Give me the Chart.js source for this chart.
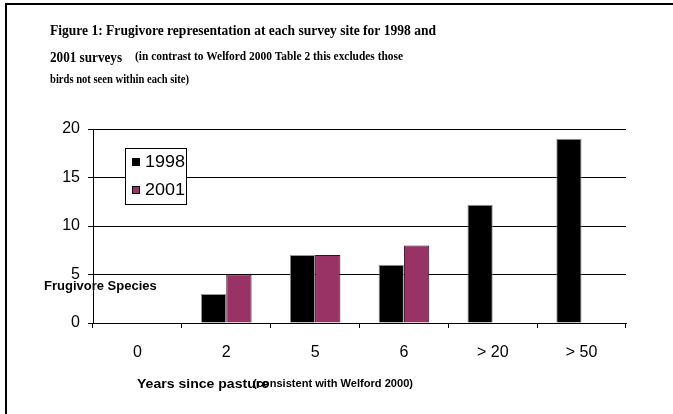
<!DOCTYPE html>
<html>
<head>
<meta charset="utf-8">
<script src="https://cdn.jsdelivr.net/npm/chart.js@4"></script>
<style>
    html, body { margin: 0; padding: 0; background: #fff; }
    #wrap { width: 673px; height: 414px; position: relative; }
</style>
</head>
<body>
<div id="wrap"><canvas id="chart" width="673" height="414"></canvas></div>
<script>
// data
const categories = ['0', '2', '5', '6', '> 20', '> 50'];
const values1998 = [0, 3, 7, 6, 12.2, 19];
const values2001 = [0, 5, 7, 8, null, null];
const yTicks = [0, 5, 10, 15, 20];

const seriesNames = ['1998', '2001'];
const seriesColors = ['#000000', '#993366'];

// frame, titles and legend drawn straight on the canvas
const decorPlugin = {
    id: 'decor',
    afterDraw(chart) {
        const ctx = chart.ctx;
        ctx.save();

        // outer frame (left + top only visible)
        ctx.strokeStyle = '#000';
        ctx.lineWidth = 2;
        ctx.beginPath();
        ctx.moveTo(6, 414);
        ctx.lineTo(6, 4);
        ctx.lineTo(673, 4);
        ctx.stroke();

        // title
        ctx.fillStyle = '#000';
        ctx.textBaseline = 'alphabetic';
        ctx.textAlign = 'left';
        ctx.font = 'bold 15px "Liberation Serif"';
        fitText(ctx, 'Figure 1: Frugivore representation at each survey site for 1998 and', 50, 35, 386);
        fitText(ctx, '2001 surveys', 50, 62, 72);
        ctx.font = 'bold 12px "Liberation Serif"';
        fitText(ctx, '(in contrast to Welford 2000 Table 2 this excludes those', 135, 60, 268);
        fitText(ctx, 'birds not seen within each site)', 50, 83, 139);

        // axis titles
        ctx.font = 'bold 13px "Liberation Sans"';
        ctx.fillText('Frugivore Species', 44, 290);
        fitText(ctx, 'Years since pasture', 137, 388, 132);
        ctx.font = 'bold 11px "Liberation Sans"';
        fitText(ctx, '(consistent with Welford 2000)', 253, 387, 160);

        // legend box
        ctx.fillStyle = '#fff';
        ctx.fillRect(125, 148, 61, 56);
        ctx.strokeStyle = '#000';
        ctx.lineWidth = 1;
        ctx.strokeRect(125.5, 148.5, 61, 56);
        ctx.font = '16px "Liberation Sans"';
        const rows = [162, 190];
        seriesNames.forEach((name, i) => {
            ctx.fillStyle = seriesColors[i];
            ctx.fillRect(132, rows[i] - 4, 8, 8);
            ctx.strokeStyle = '#000';
            ctx.strokeRect(132.5, rows[i] - 3.5, 7, 7);
            ctx.fillStyle = '#000';
            ctx.textBaseline = 'middle';
            fitText(ctx, name, 145, rows[i] + 1, 40);
        });

        ctx.restore();
    }
};

function fitText(ctx, text, x, y, width) {
    const w = ctx.measureText(text).width;
    ctx.save();
    ctx.translate(x, y);
    ctx.scale(width / w, 1);
    ctx.fillText(text, 0, 0);
    ctx.restore();
}

new Chart(document.getElementById('chart'), {
    type: 'bar',
    data: {
        labels: categories,
        datasets: [{
            label: seriesNames[0],
            data: values1998,
            backgroundColor: seriesColors[0],
            borderColor: '#9a9a9a',
            borderWidth: 1
        }, {
            label: seriesNames[1],
            data: values2001,
            backgroundColor: seriesColors[1],
            borderColor: '#3a0f24',
            borderWidth: 1
        }]
    },
    plugins: [decorPlugin],
    options: {
        responsive: false,
        animation: false,
        events: [],
        datasets: {
            bar: {
                categoryPercentage: 0.57,
                barPercentage: 1.0
            }
        },
        layout: {
            padding: { left: 0, top: 129, right: 47, bottom: 0 }
        },
        scales: {
            y: {
                min: 0,
                max: 20,
                afterFit(scale) { scale.width = 93; },
                afterBuildTicks(scale) { scale.ticks = yTicks.map(v => ({ value: v })); },
                ticks: {
                    color: '#000',
                    padding: 8,
                    font: { family: 'Liberation Sans', size: 16 }
                },
                grid: {
                    color: '#000',
                    lineWidth: 1,
                    tickLength: 5
                },
                border: { color: '#000', width: 1 }
            },
            x: {
                afterFit(scale) { scale.height = 91; },
                ticks: {
                    color: '#000',
                    padding: 15,
                    font: { family: 'Liberation Sans', size: 16 }
                },
                grid: {
                    offset: true,
                    drawOnChartArea: false,
                    color: '#000',
                    tickLength: 5
                },
                border: { color: '#000', width: 1 }
            }
        },
        plugins: {
            legend: { display: false },
            tooltip: { enabled: false }
        }
    }
});
</script>
</body>
</html>
